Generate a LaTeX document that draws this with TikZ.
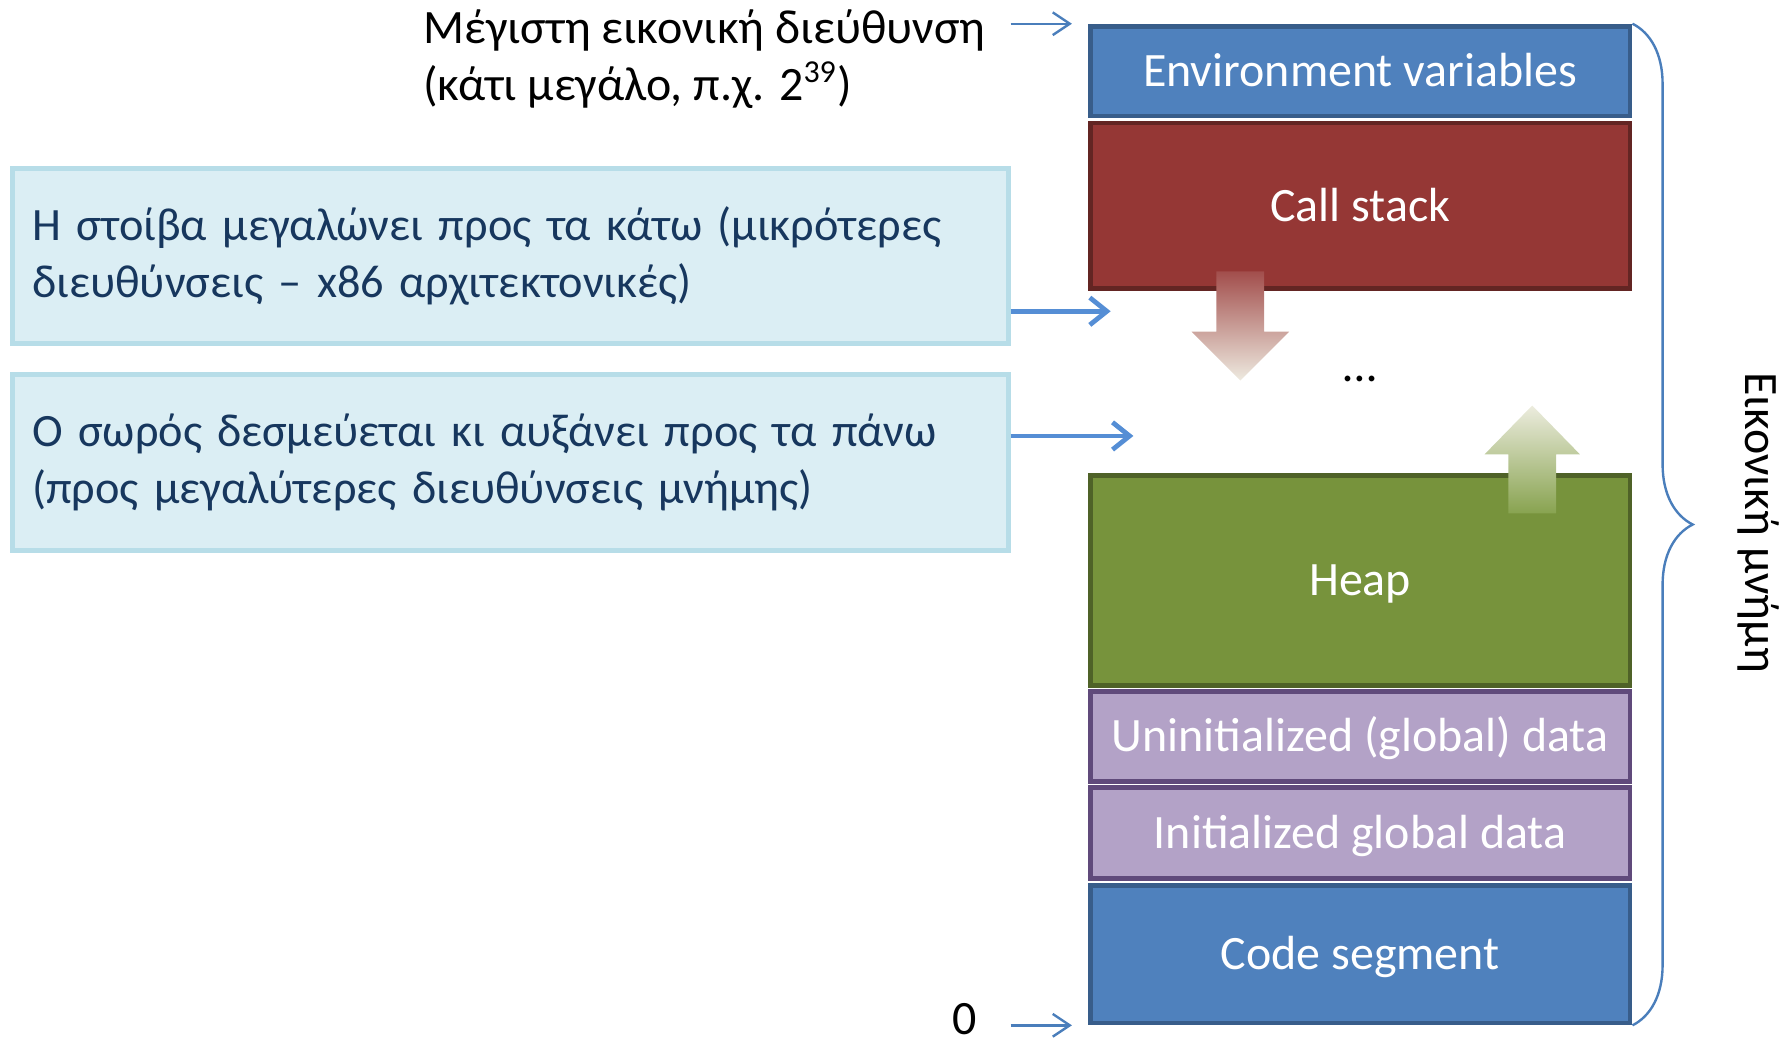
\documentclass[tikz,border=0pt]{standalone}
\usepackage{fontspec}
\setmainfont{Carlito}
\usetikzlibrary{arrows.meta,positioning,decorations.pathreplacing}

\definecolor{segblue}{HTML}{4F81BD}
\definecolor{segblueline}{HTML}{385D8A}
\definecolor{segred}{HTML}{953735}
\definecolor{segredline}{HTML}{632523}
\definecolor{seggreen}{HTML}{77933C}
\definecolor{seggreenline}{HTML}{4F6228}
\definecolor{segpurple}{HTML}{B3A2C7}
\definecolor{segpurpleline}{HTML}{604A7B}
\definecolor{notefill}{HTML}{DBEEF4}
\definecolor{noteline}{HTML}{B7DDE8}
\definecolor{notetext}{HTML}{17375E}
\definecolor{ptrblue}{HTML}{4A7EBB}
\definecolor{notearrowblue}{HTML}{558ED5}

\begin{document}
\begin{tikzpicture}[
    x=0.01cm, y=-0.01cm,
    font=\fontsize{12}{14.2}\selectfont,
    segment/.style={rectangle, line width=1.2pt, minimum width=4.75cm, inner sep=0pt, text height=1.8ex, text depth=0.2ex, text=white},
    bluesegment/.style={segment, draw=segblueline, fill=segblue},
    purplesegment/.style={segment, draw=segpurpleline, fill=segpurple},
    note/.style={rectangle, draw=noteline, fill=notefill, line width=1.2pt, minimum width=8.76cm, text width=8.42cm, align=left, text=notetext, font=\fontsize{11.6}{14.2}\selectfont},
    pointer/.style={-{Straight Barb[length=0.15cm,width=0.2cm]}, draw=ptrblue, line width=0.6pt},
    notearrow/.style={-{Straight Barb[length=0.15cm,width=0.24cm]}, draw=notearrowblue, line width=1.2pt}
]
\useasboundingbox (0,0) rectangle (1568,917);

% address space, top to bottom
\node[bluesegment, minimum height=0.79cm] (env) at (1197.5,62.5) {Environment variables};
\node[segment, draw=segredline, fill=segred, minimum height=1.46cm, below=0.02cm of env] (stack) {Call stack};
\node[segment, draw=seggreenline, fill=seggreen, minimum height=1.85cm, below=1.60cm of stack] (heap) {Heap};
\node[purplesegment, minimum height=0.79cm, below=0.01cm of heap] (bss) {Uninitialized (global) data};
\node[purplesegment, minimum height=0.80cm, below=0.01cm of bss] (data) {Initialized global data};
\node[bluesegment, minimum height=1.21cm, below=0.02cm of data] (code) {Code segment};

% growth directions
\path[top color={rgb,255:red,162;green,78;blue,76}, middle color={rgb,255:red,215;green,148;blue,146}, bottom color={rgb,255:red,238;green,234;blue,224}]
    (1071,239) -- (1113,239) -- (1113,292) -- (1135,292) -- (1092,335) -- (1049,292) -- (1071,292) -- cycle;
\path[top color={rgb,255:red,236;green,236;blue,222}, middle color={rgb,255:red,201;green,218;blue,163}, bottom color={rgb,255:red,136;green,163;blue,80}]
    (1328,452) -- (1370,452) -- (1370,400) -- (1391,400) -- (1349,357) -- (1307,400) -- (1328,400) -- cycle;
\node (free) at (1197,334) {…};

% address labels
\node[inner sep=0pt, anchor=west, align=left] (maxaddr) at (372,52) {Μέγιστη εικονική διεύθυνση\\(κάτι μεγάλο, π.χ. 2\textsuperscript{39})};
\node[inner sep=0pt] (zero) at (849,897) {0};
\draw[pointer] ([xshift=-0.68cm]env.north west) -- ([xshift=-0.14cm]env.north west);
\draw[pointer] ([xshift=-0.68cm]code.south west) -- ([xshift=-0.14cm]code.south west);

% notes
\node[note, minimum height=1.54cm] (stacknote) at (449.5,225.5) {Η στοίβα μεγαλώνει προς τα κάτω (μικρότερες\\διευθύνσεις – x86 αρχιτεκτονικές)};
\node[note, minimum height=1.55cm, below=0.23cm of stacknote] (heapnote) {Ο σωρός δεσμεύεται κι αυξάνει προς τα πάνω\\(προς μεγαλύτερες διευθύνσεις μνήμης)};
\draw[notearrow] ([yshift=-0.485cm]stacknote.east) -- ++(88,0);
\draw[notearrow] ([yshift=0.235cm]heapnote.east) -- ++(108,0);

% whole range
\draw[ptrblue, line width=0.6pt, decorate, decoration={brace, amplitude=0.53cm}] (env.north east) -- (code.south east);
\node[rotate=-90] (vmem) at (1548,460) {Εικονική μνήμη};

\end{tikzpicture}
\end{document}
